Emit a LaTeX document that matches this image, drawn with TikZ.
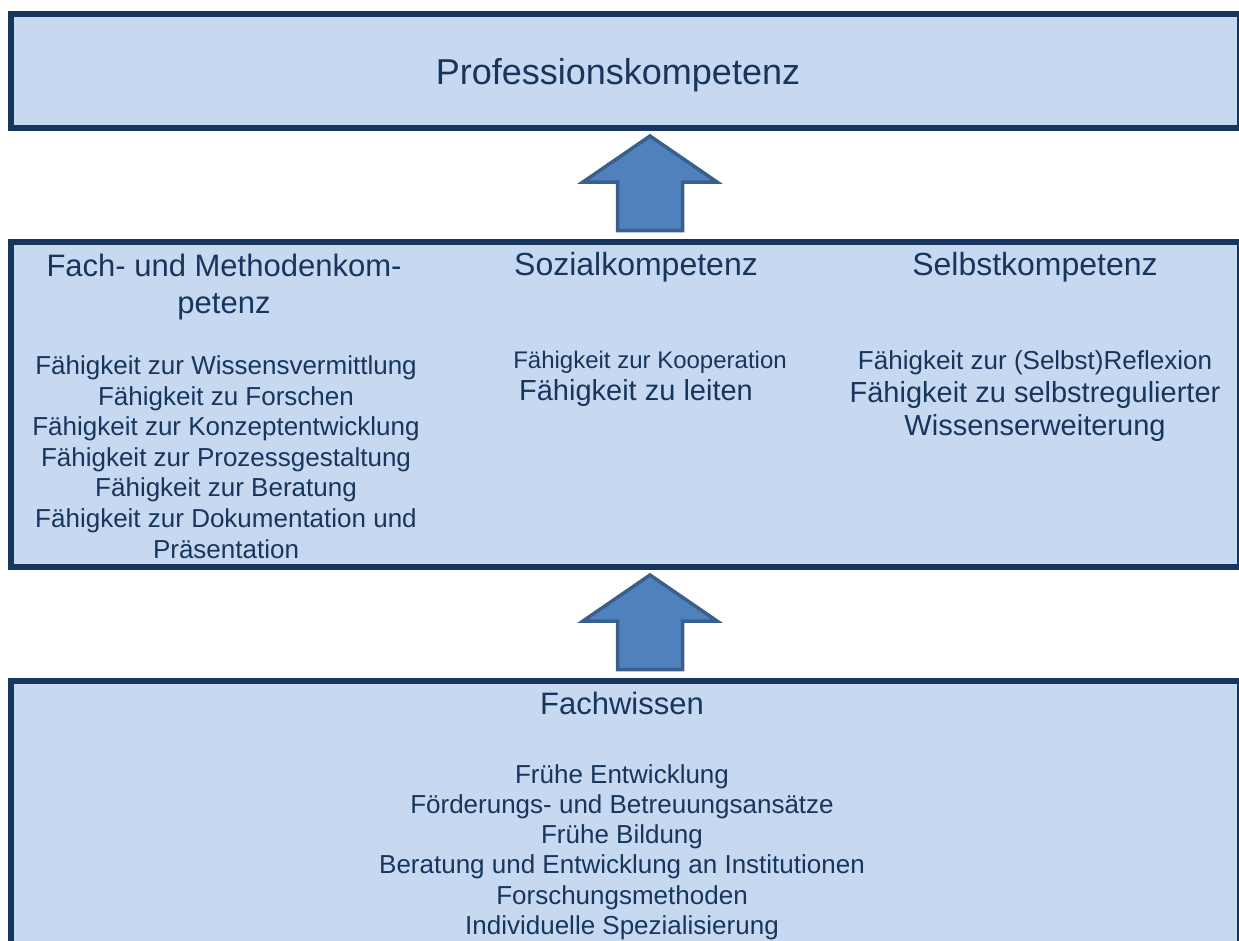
\documentclass[tikz,border=0pt]{standalone}
\usepackage{fontspec}
\setmainfont{Liberation Sans}
\usepackage{tikz}
\definecolor{kompetenzrand}{HTML}{17365D}
\definecolor{kompetenzfeld}{HTML}{C6D9F0}
\definecolor{pfeilfeld}{HTML}{4F81BD}
\definecolor{pfeilrand}{HTML}{3A5F8C}
\tikzset{
  feld/.style={draw=kompetenzrand,fill=kompetenzfeld,line width=6pt,inner sep=0pt,outer sep=0pt,anchor=north west},
  pfeil/.style={draw=pfeilrand,fill=pfeilfeld,line width=3.5pt,line join=miter},
  schrift/.style={text=kompetenzrand,inner sep=0pt,align=center,anchor=north},
}
\begin{document}
\begin{tikzpicture}[x=1pt,y=-1pt]
			\useasboundingbox (0,0) rectangle (1239,940);
			\node[feld,minimum width=1229pt,minimum height=114.5pt] (prof) at (11,13.5) {};
			\node[feld,minimum width=1229pt,minimum height=325pt] (mitte) at (11,242) {};
			\node[feld,minimum width=1229pt,minimum height=279pt] (basis) at (11,681) {};
			\draw[pfeil] (650,136) -- (717,182) -- (682.5,182) -- (682.5,230.5) -- (617.5,230.5) -- (617.5,182) -- (583,182) -- cycle;
			\draw[pfeil] (650,575) -- (717,621) -- (682.5,621) -- (682.5,669.5) -- (617.5,669.5) -- (617.5,621) -- (583,621) -- cycle;
			\node[schrift,font=\fontsize{36}{43}\selectfont] (proftext) at (618,58) {Professionskompetenz};
			\node[schrift,font=\fontsize{31}{37}\selectfont] (fachkopf) at (224,254) {Fach- und Methodenkom-\\petenz};
			\node[schrift,font=\fontsize{26}{30.6}\selectfont] (fachliste) at (226,355.4) {F\"ahigkeit zur Wissensvermittlung\\F\"ahigkeit zu Forschen\\F\"ahigkeit zur Konzeptentwicklung\\F\"ahigkeit zur Prozessgestaltung\\F\"ahigkeit zur Beratung\\F\"ahigkeit zur Dokumentation und\\Pr\"asentation};
			\node[schrift,font=\fontsize{32}{38}\selectfont] (sozkopf) at (636,252) {Sozialkompetenz};
			\node[schrift,font=\fontsize{24}{29}\selectfont] (sozkoop) at (650,350.8) {F\"ahigkeit zur Kooperation};
			\node[schrift,font=\fontsize{29}{33}\selectfont] (sozleit) at (636,379.2) {F\"ahigkeit zu leiten};
			\node[schrift,font=\fontsize{32}{38}\selectfont] (selbkopf) at (1035,252) {Selbstkompetenz};
			\node[schrift,font=\fontsize{26}{30.6}\selectfont] (selbrefl) at (1035,350.4) {F\"ahigkeit zur (Selbst)Reflexion};
			\node[schrift,font=\fontsize{29}{33}\selectfont] (selbwiss) at (1035,381.7) {F\"ahigkeit zu selbstregulierter\\Wissenserweiterung};
			\node[schrift,font=\fontsize{31}{37}\selectfont] (wisskopf) at (622,691.8) {Fachwissen};
			\node[schrift,font=\fontsize{26}{30.3}\selectfont] (wissliste) at (622,764) {Fr\"uhe Entwicklung\\F\"orderungs- und Betreuungsans\"atze\\Fr\"uhe Bildung\\Beratung und Entwicklung an Institutionen\\Forschungsmethoden\\Individuelle Spezialisierung};
		\end{tikzpicture}
\end{document}
